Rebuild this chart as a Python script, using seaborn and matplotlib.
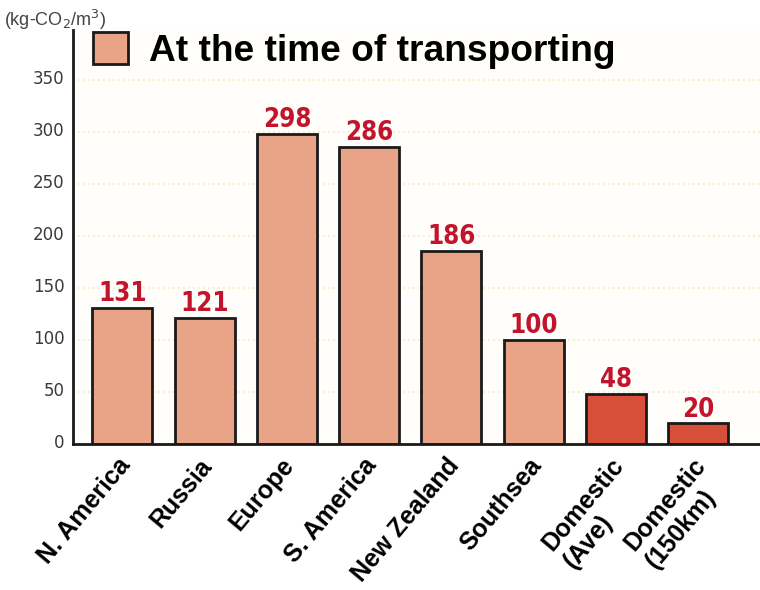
import matplotlib
matplotlib.use("Agg")
import matplotlib.pyplot as plt
import matplotlib.transforms as mtransforms
from matplotlib import font_manager
from matplotlib.patches import Patch
import pandas as pd
import seaborn as sns

# CO2 emitted while transporting timber, per cubic metre
regions = ["N. America", "Russia", "Europe", "S. America", "New Zealand",
           "Southsea", "Domestic\n(Ave)", "Domestic\n(150km)"]
emissions = [131, 121, 298, 286, 186, 100, 48, 20]
origin = ["Import", "Import", "Import", "Import", "Import", "Import",
          "Domestic", "Domestic"]
y_ticks = [0, 50, 100, 150, 200, 250, 300, 350]

legend_label = "At the time of transporting"
unit_label = "(kg-CO$_2$/m$^3$)"

palette = {"Import": "#e9a488", "Domestic": "#d9503a"}
value_color = "#c2142c"


def narrow_bold_font():
    """Pick an installed bold condensed/narrow sans face for the value labels."""
    best = None
    for f in font_manager.fontManager.ttflist:
        tag = (f.name + " " + f.fname).lower()
        narrow = ("narrow" in tag or "condensed" in tag
                  or f.stretch in ("condensed", "semi-condensed"))
        if not narrow or "extra" in tag or "semi" in tag or "italic" in tag \
                or "oblique" in tag:
            continue
        w = f.weight if isinstance(f.weight, int) else (700 if "bold" in str(f.weight) else 400)
        if w < 600:
            continue
        if "mono" in tag or "serif" in f.name.lower() and "sans" not in f.name.lower():
            continue
        rank = 0 if "liberation" in tag else 1 if "noto sans" in tag else \
            2 if "dejavu" in tag else 3
        if best is None or rank < best[0]:
            best = (rank, f.fname)
    if best is None:
        return font_manager.FontProperties(family="Liberation Sans", weight="bold")
    return font_manager.FontProperties(fname=best[1])


df = pd.DataFrame({"region": regions, "co2": emissions, "origin": origin})

sns.set_style("white")
plt.rcParams["font.family"] = ["Liberation Sans", "DejaVu Sans"]
plt.rcParams["text.color"] = "black"

fig = plt.figure(figsize=(7.6, 5.9), dpi=100)
ax = fig.add_axes([73 / 760, 146 / 590, 687 / 760, 414 / 590])
ax.set_facecolor("#fffefa")

sns.barplot(data=df, x="region", y="co2", hue="origin", palette=palette,
            dodge=False, width=0.73, saturation=1, edgecolor="#1a1a1a",
            linewidth=2, legend=False, ax=ax)

# value labels on top of each bar
value_font = narrow_bold_font()
value_font.set_size(18.5)
for cont in ax.containers:
    ax.bar_label(cont, fmt="%d", padding=0.5, color=value_color,
                 fontproperties=value_font)

ax.set_xlim(-0.6, 7.75)
ax.set_ylim(0, 398)
ax.set_yticks(y_ticks)
ax.set_xlabel("")
ax.set_ylabel("")

# faint dotted horizontal guides
ax.yaxis.grid(True, color="#efe9bd", linestyle=(0, (1, 2)), linewidth=1.2)
ax.xaxis.grid(False)
ax.set_axisbelow(True)

for side in ("top", "right"):
    ax.spines[side].set_visible(False)
for side in ("left", "bottom"):
    ax.spines[side].set_color("#1a1a1a")
    ax.spines[side].set_linewidth(2)

ax.tick_params(axis="y", length=0, pad=6, labelsize=12, labelcolor="#3a3a3a")
for lab in ax.get_yticklabels():
    lab.set_family("DejaVu Sans")
    lab.set_transform(lab.get_transform() +
                      mtransforms.ScaledTranslation(0, 3 / 100, fig.dpi_scale_trans))

ax.set_xticks(range(len(regions)))
ax.set_xticklabels(regions, rotation=50, ha="right", va="top",
                   rotation_mode="anchor", fontsize=18, fontweight="bold",
                   multialignment="left", color="black")
ax.tick_params(axis="x", length=0, pad=7)
for lab in ax.get_xticklabels():
    lab.set_transform(lab.get_transform() +
                      mtransforms.ScaledTranslation(-6 / 100, 0, fig.dpi_scale_trans))

# legend with a single swatch
handle = Patch(facecolor=palette["Import"], edgecolor="#1a1a1a", linewidth=2)
leg = fig.legend(handles=[handle], labels=[legend_label], loc="upper left",
                 bbox_to_anchor=(93 / 760, 1 - 32 / 590), frameon=False,
                 borderpad=0, borderaxespad=0, handlelength=0.95,
                 handleheight=0.95, handletextpad=0.55,
                 prop={"family": "Liberation Sans", "weight": "bold",
                       "size": 26.7})
for t in leg.get_texts():
    t.set_color("black")

fig.text(4 / 760, 1 - 20 / 590, unit_label, ha="left", va="center",
         fontsize=13, color="#444444")

fig.savefig("out.png", dpi=100)
